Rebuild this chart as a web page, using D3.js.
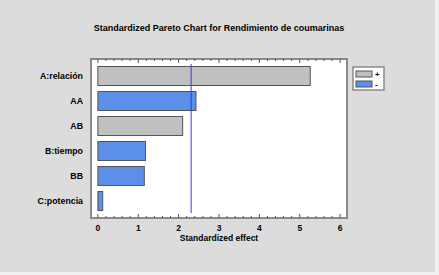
<!DOCTYPE html>
<html>
<head>
<meta charset="utf-8">
<script src="https://cdnjs.cloudflare.com/ajax/libs/d3/7.8.5/d3.min.js"></script>
<style>
  body { margin: 0; background: #f0f0f0; }
  svg { display: block; }
  text { font-family: "Liberation Sans", Arial, sans-serif; font-weight: bold; fill: #000; }
</style>
</head>
<body>
<div id="chart"></div>
<script>
var factors = ["A:relación", "AA", "AB", "B:tiempo", "BB", "C:potencia"]
var effects = [5.26, 2.43, 2.10, 1.18, 1.15, 0.12]
var signs = ["+", "-", "+", "-", "-", "-"]
var xTicks = [0, 1, 2, 3, 4, 5, 6]
var critical = 2.31

var W = 439, H = 275
var svg = d3.select("#chart").append("svg")
            .attr("width", W)
            .attr("height", H)

// grey panel, leaves a lighter strip right and bottom
svg.append("rect")
   .attr("x", 0).attr("y", 0)
   .attr("width", 435).attr("height", 272)
   .style("fill", "#dcdcdc")

svg.append("text")
   .attr("x", 219).attr("y", 31)
   .attr("text-anchor", "middle")
   .style("font-size", "9px")
   .text("Standardized Pareto Chart for Rendimiento de coumarinas")

var pLeft = 91, pRight = 347, pTop = 59, pBottom = 218

var x = d3.scaleLinear().domain([-0.17, 6.17]).range([pLeft, pRight])
var y = d3.scaleBand().domain(factors).range([63.5, 213.5])
          .paddingInner(0.24).paddingOuter(0.12)

// plot area
svg.append("rect")
   .attr("x", pLeft).attr("y", pTop)
   .attr("width", pRight - pLeft).attr("height", pBottom - pTop)
   .style("fill", "#fff")
   .style("stroke", "#8a8a8a")
   .style("stroke-width", 2)

// minor + major ticks on top and bottom frame
var minor = d3.range(0, 30.5, 1).map(d => d / 5)
var isMajor = d => Math.abs(d - Math.round(d)) < 0.01
svg.append("g").selectAll("line")
   .data(minor)
   .enter().append("line")
   .attr("x1", d => x(d)).attr("x2", d => x(d))
   .attr("y1", pTop).attr("y2", d => pTop + (isMajor(d) ? 4 : 2))
   .style("stroke", "#555").style("stroke-width", 1)
svg.append("g").selectAll("line")
   .data(minor)
   .enter().append("line")
   .attr("x1", d => x(d)).attr("x2", d => x(d))
   .attr("y1", pBottom).attr("y2", d => pBottom - (isMajor(d) ? 4 : 2))
   .style("stroke", "#555").style("stroke-width", 1)

svg.append("g").selectAll("text")
   .data(xTicks)
   .enter().append("text")
   .attr("x", d => x(d)).attr("y", 231)
   .attr("text-anchor", "middle")
   .style("font-size", "8.5px")
   .text(d => d)

svg.append("text")
   .attr("x", x(3)).attr("y", 241)
   .attr("text-anchor", "middle")
   .style("font-size", "8.5px")
   .text("Standardized effect")

// bars
var fillFor = s => s === "+" ? "#c0c0c0" : "#5b8fe8"
svg.append("g").selectAll("rect")
   .data(factors)
   .enter().append("rect")
   .attr("x", x(0))
   .attr("y", d => y(d))
   .attr("width", (d, i) => x(effects[i]) - x(0))
   .attr("height", y.bandwidth())
   .style("fill", (d, i) => fillFor(signs[i]))
   .style("stroke", "#555")
   .style("stroke-width", 1)

svg.append("g").selectAll("text")
   .data(factors)
   .enter().append("text")
   .attr("x", 83)
   .attr("y", d => y(d) + y.bandwidth() / 2 + 3)
   .attr("text-anchor", "end")
   .style("font-size", "8.8px")
   .text(d => d)

// critical value line
svg.append("line")
   .attr("x1", x(critical)).attr("x2", x(critical))
   .attr("y1", pTop + 5).attr("y2", pBottom - 5)
   .style("stroke", "#3a3ad8").style("stroke-width", 1)

// legend
var legend = svg.append("g").attr("transform", "translate(353,67)")
legend.append("rect")
      .attr("width", 31).attr("height", 23)
      .style("fill", "#fff")
      .style("stroke", "#8a8a8a").style("stroke-width", 1.5)
legend.selectAll(".key")
      .data(["+", "-"])
      .enter().append("rect")
      .attr("class", "key")
      .attr("x", 3).attr("y", (d, i) => 4 + i * 10)
      .attr("width", 16).attr("height", 6)
      .style("fill", d => fillFor(d))
      .style("stroke", "#555").style("stroke-width", 1)
legend.selectAll(".lab")
      .data(["+", "-"])
      .enter().append("text")
      .attr("class", "lab")
      .attr("x", 22).attr("y", (d, i) => 10 + i * 10)
      .style("font-size", "8px")
      .text(d => d)
</script>
</body>
</html>
